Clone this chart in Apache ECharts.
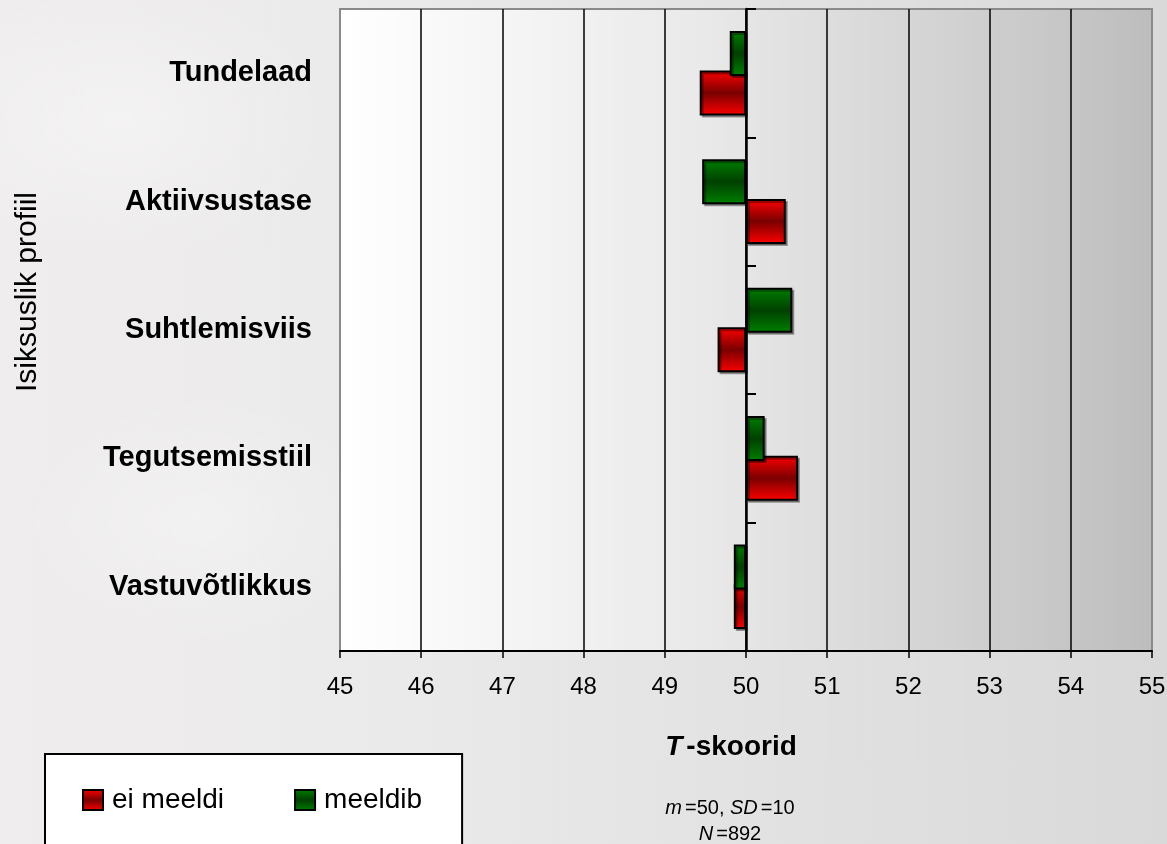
<!DOCTYPE html>
<html>
<head>
<meta charset="utf-8">
<script src="https://cdn.jsdelivr.net/npm/echarts@6/dist/echarts.min.js"></script>
<style>
  html, body { margin: 0; padding: 0; }
  body {
    width: 1167px; height: 844px; overflow: hidden;
    background:
      radial-gradient(ellipse 300px 200px at 120px 120px, rgba(255,255,255,0.35), rgba(255,255,255,0) 70%),
      radial-gradient(ellipse 260px 180px at 200px 520px, rgba(255,255,255,0.3), rgba(255,255,255,0) 70%),
      linear-gradient(to right, #efeded 0%, #ebeaea 35%, #e2e2e2 65%, #d9d9d9 100%);
  }
  #chart { width: 1167px; height: 844px; }
</style>
</head>
<body>
<div id="chart"></div>
<script>
// Personality profile T-scores by group
const categories = ['Tundelaad', 'Aktiivsustase', 'Suhtlemisviis', 'Tegutsemisstiil', 'Vastuvõtlikkus'];
const meeldib = [49.80, 49.46, 50.57, 50.23, 49.85];
const eiMeeldi = [49.43, 50.49, 49.65, 50.64, 49.85];
const xTicks = [45, 46, 47, 48, 49, 50, 51, 52, 53, 54, 55];
const MEAN = 50;

const FONT = "'Liberation Sans', Arial, sans-serif";

// bars grow from the mean, so the value axis is measured as deviation from it
const toDev = arr => arr.map(v => +(v - MEAN).toFixed(3));

function barGradient(edge, mid) {
  return new echarts.graphic.LinearGradient(0, 0, 0, 1, [
    { offset: 0, color: edge },
    { offset: 0.5, color: mid },
    { offset: 1, color: edge }
  ]);
}

const splitColors = xTicks.map((t, i) => (i === 0 || i === xTicks.length - 1) ? '#8a8a8a' : '#000');

const chart = echarts.init(document.getElementById('chart'), null, { renderer: 'canvas' });

chart.setOption({
  backgroundColor: 'transparent',
  animation: false,
  textStyle: { fontFamily: FONT },
  grid: {
    left: 340, right: 15, top: 9, bottom: 193,
    show: true,
    backgroundColor: new echarts.graphic.LinearGradient(0, 0, 1, 0, [
      { offset: 0, color: '#ffffff' },
      { offset: 0.45, color: '#e9e9e9' },
      { offset: 0.75, color: '#d2d2d2' },
      { offset: 1, color: '#bdbdbd' }
    ]),
    borderColor: '#8a8a8a',
    borderWidth: 2,
    outerBoundsMode: 'none'
  },
  xAxis: {
    type: 'value',
    min: xTicks[0] - MEAN,
    max: xTicks[xTicks.length - 1] - MEAN,
    interval: 1,
    axisLine: { show: true, onZero: false, lineStyle: { color: '#000', width: 2 } },
    axisTick: { show: true, length: 7, lineStyle: { color: '#000', width: 1.5 } },
    axisLabel: {
      margin: 24,
      fontSize: 24, color: '#000', fontFamily: FONT,
      formatter: v => String(Math.round(v + MEAN))
    },
    splitLine: { show: true, lineStyle: { color: splitColors, width: 1.5 } }
  },
  yAxis: [
    {
      type: 'category',
      data: categories,
      inverse: true,
      position: 'left',
      axisLine: { show: false, onZero: false },
      axisTick: { show: false },
      axisLabel: {
        margin: 28,
        fontSize: 29, fontWeight: 'bold', color: '#000', fontFamily: FONT
      },
      splitLine: { show: false }
    },
    {
      type: 'category',
      data: categories,
      inverse: true,
      position: 'left',
      axisLine: { show: true, onZero: true, lineStyle: { color: '#000', width: 2.5 } },
      axisTick: { show: true, inside: true, length: 10, lineStyle: { color: '#000', width: 2 } },
      axisLabel: { show: false },
      splitLine: { show: false },
      z: 5
    }
  ],
  legend: {
    data: ['ei meeldi', 'meeldib'],
    left: 45, top: 754,
    orient: 'horizontal',
    backgroundColor: '#ffffff',
    borderColor: '#000',
    borderWidth: 2,
    borderRadius: 0,
    padding: [32, 40, 60, 37],
    itemWidth: 20, itemHeight: 20, itemGap: 70,
    icon: 'rect',
    textStyle: { fontSize: 28, color: '#000', fontFamily: FONT, padding: [0, 0, 0, 4] }
  },
  series: [
    {
      name: 'meeldib',
      type: 'bar',
      yAxisIndex: 0,
      data: toDev(meeldib),
      barWidth: 45,
      barGap: '-12%',
      z: 3,
      itemStyle: {
        color: barGradient('#008000', '#004000'),
        borderColor: '#000', borderWidth: 2,
        shadowColor: 'rgba(0,0,0,0.35)', shadowOffsetX: 2, shadowOffsetY: 2, shadowBlur: 0
      }
    },
    {
      name: 'ei meeldi',
      type: 'bar',
      yAxisIndex: 0,
      data: toDev(eiMeeldi),
      barWidth: 45,
      barGap: '-12%',
      z: 2,
      itemStyle: {
        color: barGradient('#ff0000', '#7a0000'),
        borderColor: '#000', borderWidth: 2,
        shadowColor: 'rgba(0,0,0,0.35)', shadowOffsetX: 2, shadowOffsetY: 2, shadowBlur: 0
      }
    }
  ],
  graphic: [
    {
      type: 'text',
      x: 28, y: 292,
      rotation: Math.PI / 2,
      style: {
        text: 'Isiksuslik profiil',
        font: "30px 'Liberation Sans', Arial, sans-serif",
        fill: '#000',
        align: 'center', verticalAlign: 'middle'
      }
    },
    {
      type: 'text',
      x: 731, y: 747,
      style: {
        text: '{i|T}{b|-skoorid}',
        align: 'center', verticalAlign: 'middle',
        rich: {
          i: { fontSize: 28, fontWeight: 'bold', fontStyle: 'italic', fontFamily: FONT, fill: '#000', padding: [0, 4, 0, 0] },
          b: { fontSize: 28, fontWeight: 'bold', fontFamily: FONT, fill: '#000' }
        }
      }
    },
    {
      type: 'text',
      x: 730, y: 808,
      style: {
        text: '{i|m}{n|=50, }{i|SD}{n|=10}',
        align: 'center', verticalAlign: 'middle',
        rich: {
          i: { fontSize: 20, fontStyle: 'italic', fontFamily: FONT, fill: '#000', padding: [0, 3, 0, 0] },
          n: { fontSize: 20, fontFamily: FONT, fill: '#000' }
        }
      }
    },
    {
      type: 'text',
      x: 730, y: 834,
      style: {
        text: '{i|N}{n|=892}',
        align: 'center', verticalAlign: 'middle',
        rich: {
          i: { fontSize: 20, fontStyle: 'italic', fontFamily: FONT, fill: '#000', padding: [0, 3, 0, 0] },
          n: { fontSize: 20, fontFamily: FONT, fill: '#000' }
        }
      }
    }
  ]
});
</script>
</body>
</html>
